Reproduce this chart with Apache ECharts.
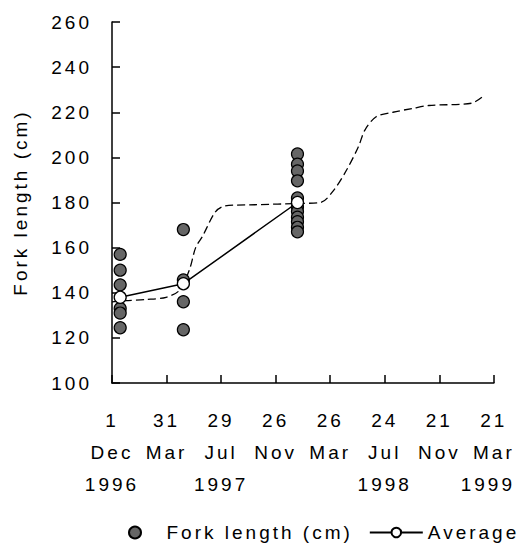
<!DOCTYPE html>
<html>
<head>
<meta charset="utf-8">
<script src="https://cdn.jsdelivr.net/npm/echarts@6/dist/echarts.min.js"></script>
<style>
  html, body { margin: 0; padding: 0; background: #fff; }
  #chart { width: 524px; height: 550px; }
  #chart text { letter-spacing: 3px; }
</style>
</head>
<body>
<div id="chart"></div>
<script>
// X axis: days since 1 Dec 1996, ticks every 120 days
const tickDays = [0, 120, 240, 360, 480, 600, 720, 840];
const tickDayLabels = ['1', '31', '29', '26', '26', '24', '21', '21'];
const tickMonthLabels = ['Dec', 'Mar', 'Jul', 'Nov', 'Mar', 'Jul', 'Nov', 'Mar'];
const tickYearLabels = ['1996', '', '1997', '', '', '1998', '', '1999'];

// Y axis ticks
const yTicks = [100, 120, 140, 160, 180, 200, 220, 240, 260];

// Sampling occasions (days since 1 Dec 1996) and fork lengths (cm)
const sampleDays = [18, 157, 408];
const forkLengthsDec1996 = [157, 150, 143.5, 133, 131, 124.5];
const forkLengthsMay1997 = [168, 145.7, 136, 123.6];
const forkLengthsJan1998 = [201.5, 197, 194, 189.6, 182, 178, 176, 173.5, 171.5, 169, 167];

// Average fork length per sampling occasion
const averageValues = [138, 144, 180];

// Dashed growth curve
const curveDays = [0, 29, 76, 119, 148, 170, 184, 199, 228, 249, 314, 415, 459, 488, 516, 542, 556, 581, 618, 661, 697, 791, 816];
const curveValues = [136, 136.5, 137, 138, 141, 150, 160, 165, 176, 178.5, 179, 179.6, 180, 185.5, 194.4, 204.7, 212, 218, 220, 221.7, 223, 224, 227];

const groups = [forkLengthsDec1996, forkLengthsMay1997, forkLengthsJan1998];
const scatterData = [];
groups.forEach((g, i) => g.forEach(v => scatterData.push([sampleDays[i], v])));
const averageData = sampleDays.map((d, i) => [d, averageValues[i]]);
const curveData = curveDays.map((d, i) => [d, curveValues[i]]);

const FONT = '"Liberation Sans", Arial, sans-serif';

const chart = echarts.init(document.getElementById('chart'), null, { renderer: 'svg' });
chart.setOption({
  animation: false,
  backgroundColor: '#ffffff',
  textStyle: { fontFamily: FONT, color: '#000' },
  grid: { left: 112, right: 25, top: 22, bottom: 167, containLabel: false },
  xAxis: {
    type: 'value',
    min: tickDays[0],
    max: tickDays[tickDays.length - 1],
    interval: 120,
    splitLine: { show: false },
    axisLine: { show: true, onZero: false, lineStyle: { color: '#000', width: 1.5 } },
    axisTick: { show: true, inside: true, length: 8, lineStyle: { color: '#000', width: 1.5 } },
    axisLabel: {
      margin: 21,
      fontSize: 19,
      lineHeight: 32,
      color: '#000',
      fontFamily: FONT,
      formatter: function (v) {
        const i = tickDays.indexOf(v);
        if (i < 0) return '';
        let s = tickDayLabels[i] + '\n' + tickMonthLabels[i];
        if (tickYearLabels[i]) {
          s += '\n' + (i === tickDays.length - 1 ? '{last|' + tickYearLabels[i] + '}' : tickYearLabels[i]);
        }
        return s;
      },
      rich: {
        last: { fontSize: 19, lineHeight: 32, color: '#000', fontFamily: FONT, padding: [0, 12, 0, 0] }
      }
    }
  },
  yAxis: {
    type: 'value',
    min: yTicks[0],
    max: yTicks[yTicks.length - 1],
    interval: 20,
    name: 'Fork length (cm)',
    nameLocation: 'middle',
    nameRotate: 90,
    nameGap: 82,
    nameTextStyle: { fontSize: 19, color: '#000', fontFamily: FONT },
    splitLine: { show: false },
    axisLine: { show: true, lineStyle: { color: '#000', width: 1.5 } },
    axisTick: { show: true, inside: true, length: 8, lineStyle: { color: '#000', width: 1.5 } },
    axisLabel: { margin: 20, fontSize: 19, color: '#000', fontFamily: FONT }
  },
  legend: {
    data: ['Fork length (cm)', 'Average'],
    left: 123,
    top: 518,
    itemWidth: 53,
    itemHeight: 12,
    itemGap: 64,
    textStyle: { fontSize: 19, color: '#000', fontFamily: FONT }
  },
  series: [
    {
      name: 'curve',
      type: 'line',
      data: curveData,
      smooth: 0.3,
      showSymbol: false,
      symbol: 'none',
      z: 1,
      lineStyle: { color: '#000', width: 1.3, type: [8, 4] }
    },
    {
      name: 'Fork length (cm)',
      type: 'scatter',
      data: scatterData,
      symbol: 'circle',
      symbolSize: 12,
      z: 2,
      itemStyle: { color: '#666666', borderColor: '#000', borderWidth: 1.2, opacity: 1 }
    },
    {
      name: 'Average',
      type: 'line',
      data: averageData,
      symbol: 'circle',
      symbolSize: 12,
      showSymbol: true,
      z: 3,
      lineStyle: { color: '#000', width: 1.5 },
      itemStyle: { color: '#ffffff', borderColor: '#000', borderWidth: 1.3 }
    }
  ]
});
</script>
</body>
</html>
